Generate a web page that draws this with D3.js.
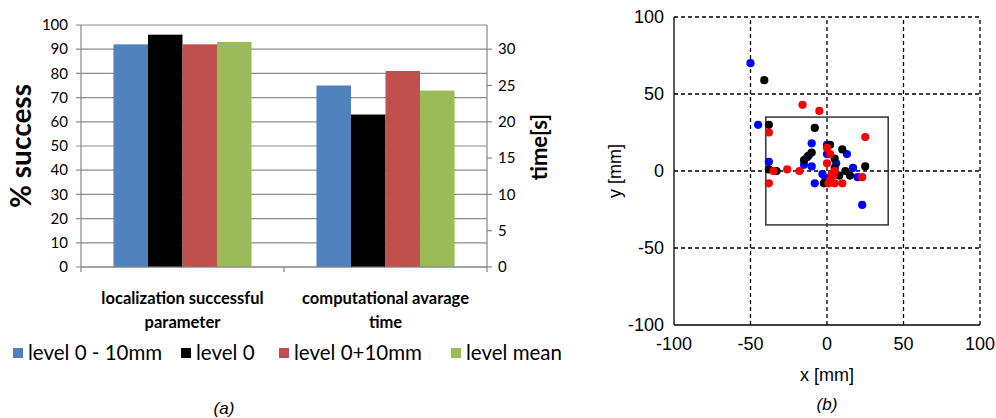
<!DOCTYPE html>
<html>
<head>
<meta charset="utf-8">
<script src="https://cdn.jsdelivr.net/npm/d3@7"></script>
<style>
  body { margin: 0; background: #fff; }
  svg { display: block; }
</style>
</head>
<body>
<div id="chart"></div>
<script>
// (a) bar chart data
const categories = ["localization successful\nparameter", "computational avarage\ntime"];
const seriesNames = ["level 0 - 10mm", "level 0", "level 0+10mm", "level mean"];
const seriesColors = ["#4f81bd", "#000000", "#c0504d", "#9bbb59"];
const successPct = [92, 96, 92, 93];     // left axis, %
const avgTime = [25, 21, 27, 24.3];      // right axis, s
const pctTicks = [0, 10, 20, 30, 40, 50, 60, 70, 80, 90, 100];
const timeTicks = [0, 5, 10, 15, 20, 25, 30];

// (b) scatter data [x, y] in mm
const bluePts = [[-50, 70], [-45, 30], [-38, 6], [-10, 18], [-15, 4], [-10, 3], [-13, 9], [0, 17], [0, 11],
  [-3, -2], [-8, -8], [6, 5], [13, 11], [17, 2], [20, -4], [23, -22], [-1, -5]];
const blackPts = [[-41, 59], [-38, 30], [-8, 28], [-38, 1], [-33, 0], [-15, 7], [-12, 10], [-10, 12], [2, 17],
  [10, 14], [5, 8], [5, 2], [12, 0], [15, -3], [25, 3], [-2, -8], [2, -7], [8, -3]];
const redPts = [[-16, 43], [-5, 39], [-38, 25], [25, 22], [-26, 1], [-18, 0], [-35, 0], [-38, -8], [0, 15],
  [2, 11], [0, 5], [4, -3], [5, 0], [2, -6], [5, -8], [10, -8], [23, -4], [1, -8], [3, -2]];
const scatterTicks = [-100, -50, 0, 50, 100];
const targetBox = [-40, 40, -35, 35]; // x0, x1, y0, y1

const svg = d3.select("#chart").append("svg")
  .attr("width", 996)
  .attr("height", 418);

// ---------- (a) ----------
const xLeft = 81, xRight = 487, yTop = 25, yBottom = 267;
const ff = "Lato, 'Open Sans', sans-serif";

const x0 = d3.scaleBand().domain(categories).range([xLeft, xRight]).paddingInner(0.32).paddingOuter(0.16);
const x1 = d3.scaleBand().domain(seriesNames).range([0, x0.bandwidth()]);
const yPct = d3.scaleLinear().domain([0, 100]).range([yBottom, yTop]);
const yTime = d3.scaleLinear().domain([0, 100 / 3]).range([yBottom, yTop]);

const a = svg.append("g");

// gridlines
a.selectAll(".grid").data(pctTicks).enter().append("line")
  .attr("x1", xLeft - 5).attr("x2", xRight)
  .attr("y1", d => yPct(d)).attr("y2", d => yPct(d))
  .attr("stroke", "#8c8c8c").attr("stroke-width", 1.2);

// bars
const barData = [];
seriesNames.forEach((s, i) => {
  barData.push({ cat: categories[0], s: s, c: seriesColors[i], y: yPct(successPct[i]) });
  barData.push({ cat: categories[1], s: s, c: seriesColors[i], y: yTime(avgTime[i]) });
});
a.selectAll(".bar").data(barData).enter().append("rect")
  .attr("x", d => x0(d.cat) + x1(d.s))
  .attr("width", x1.bandwidth())
  .attr("y", d => d.y)
  .attr("height", d => yBottom - d.y)
  .attr("fill", d => d.c);

// axes lines
a.append("line").attr("x1", xLeft).attr("x2", xLeft).attr("y1", yTop).attr("y2", yBottom)
  .attr("stroke", "#868686").attr("stroke-width", 1.2);
a.append("line").attr("x1", xRight).attr("x2", xRight).attr("y1", yTop).attr("y2", yBottom)
  .attr("stroke", "#868686").attr("stroke-width", 1.2);
a.append("line").attr("x1", xLeft).attr("x2", xRight).attr("y1", yBottom).attr("y2", yBottom)
  .attr("stroke", "#868686").attr("stroke-width", 1.2);
[xLeft, (xLeft + xRight) / 2, xRight].forEach(x => {
  a.append("line").attr("x1", x).attr("x2", x).attr("y1", yBottom).attr("y2", yBottom + 5)
    .attr("stroke", "#868686").attr("stroke-width", 1.2);
});

// left ticks labels
a.selectAll(".lt").data(pctTicks).enter().append("text")
  .attr("x", 68).attr("y", d => yPct(d)).attr("dy", "0.35em")
  .attr("text-anchor", "end")
  .attr("font-family", ff).attr("font-size", 15).attr("fill", "#000")
  .text(d => d);

// right ticks
a.selectAll(".rt").data(timeTicks).enter().append("line")
  .attr("x1", xRight).attr("x2", xRight + 5)
  .attr("y1", d => yTime(d)).attr("y2", d => yTime(d))
  .attr("stroke", "#868686").attr("stroke-width", 1.2);
a.selectAll(".rtl").data(timeTicks).enter().append("text")
  .attr("x", 498).attr("y", d => yTime(d)).attr("dy", "0.35em")
  .attr("font-family", ff).attr("font-size", 15).attr("fill", "#000")
  .text(d => d);

// axis titles
a.append("text")
  .attr("transform", "translate(31,146) rotate(-90)")
  .attr("text-anchor", "middle")
  .attr("font-family", ff).attr("font-weight", "bold").attr("font-size", 28)
  .text("% success");
a.append("text")
  .attr("transform", "translate(547,147) rotate(-90)")
  .attr("text-anchor", "middle")
  .attr("font-family", ff).attr("font-weight", "bold").attr("font-size", 22)
  .text("time[s]");

// category labels
categories.forEach(c => {
  const lines = c.split("\n");
  lines.forEach((ln, j) => {
    a.append("text")
      .attr("x", x0(c) + x0.bandwidth() / 2)
      .attr("y", 304 + j * 24)
      .attr("text-anchor", "middle")
      .attr("font-family", ff).attr("font-weight", "bold").attr("font-size", 16.5)
      .text(ln);
  });
});

// legend
const legX = [13, 181, 279, 451];
const leg = a.selectAll(".leg").data(seriesNames).enter().append("g")
  .attr("transform", (d, i) => `translate(${legX[i]},353)`);
leg.append("rect").attr("x", 0).attr("y", -5).attr("width", 10).attr("height", 10)
  .attr("fill", (d, i) => seriesColors[i]);
leg.append("text").attr("x", 15).attr("dy", "0.35em")
  .attr("font-family", ff).attr("font-size", 20.5).attr("fill", "#000")
  .text(d => d);

a.append("text").attr("x", 224).attr("y", 414).attr("text-anchor", "middle")
  .attr("font-family", "'Liberation Sans', Arial, sans-serif").attr("font-size", 17)
  .attr("font-style", "italic").text("(a)");

// ---------- (b) ----------
const sx = d3.scaleLinear().domain([-100, 100]).range([674, 980]);
const sy = d3.scaleLinear().domain([-100, 100]).range([325, 17]);
const sf = "'Liberation Sans', Arial, sans-serif";
const b = svg.append("g");

// dashed grid
scatterTicks.forEach(t => {
  if (t === -100) return;
  b.append("line").attr("x1", sx(t)).attr("x2", sx(t)).attr("y1", sy(-100)).attr("y2", sy(100))
    .attr("stroke", "#000").attr("stroke-width", 1.3).attr("stroke-dasharray", "4,3");
  b.append("line").attr("x1", sx(-100)).attr("x2", sx(100)).attr("y1", sy(t)).attr("y2", sy(t))
    .attr("stroke", "#000").attr("stroke-width", 1.3).attr("stroke-dasharray", "4,3");
});
// solid left and bottom axes
b.append("line").attr("x1", sx(-100)).attr("x2", sx(-100)).attr("y1", sy(-100)).attr("y2", sy(100))
  .attr("stroke", "#000").attr("stroke-width", 1.3);
b.append("line").attr("x1", sx(-100)).attr("x2", sx(100)).attr("y1", sy(-100)).attr("y2", sy(-100))
  .attr("stroke", "#000").attr("stroke-width", 1.3);

// tick labels
b.selectAll(".xl").data(scatterTicks).enter().append("text")
  .attr("x", d => sx(d)).attr("y", 350).attr("text-anchor", "middle")
  .attr("font-family", sf).attr("font-size", 18).text(d => d);
b.selectAll(".yl").data(scatterTicks).enter().append("text")
  .attr("x", 664).attr("y", d => sy(d)).attr("dy", "0.35em").attr("text-anchor", "end")
  .attr("font-family", sf).attr("font-size", 18).text(d => d);

b.append("text").attr("x", sx(0)).attr("y", 381).attr("text-anchor", "middle")
  .attr("font-family", sf).attr("font-size", 18).text("x [mm]");
b.append("text").attr("transform", `translate(621,${sy(0)}) rotate(-90)`).attr("text-anchor", "middle")
  .attr("font-family", sf).attr("font-size", 18).text("y [mm]");

// target box
b.append("rect")
  .attr("x", sx(targetBox[0])).attr("y", sy(targetBox[3]))
  .attr("width", sx(targetBox[1]) - sx(targetBox[0]))
  .attr("height", sy(targetBox[2]) - sy(targetBox[3]))
  .attr("fill", "none").attr("stroke", "#333").attr("stroke-width", 1.5);

// points
[[bluePts, "#0000ff"], [blackPts, "#000000"], [redPts, "#ff0000"]].forEach(([pts, col]) => {
  b.selectAll(null).data(pts).enter().append("circle")
    .attr("cx", d => sx(d[0])).attr("cy", d => sy(d[1])).attr("r", 4.1)
    .attr("fill", col);
});

b.append("text").attr("x", sx(0)).attr("y", 410).attr("text-anchor", "middle")
  .attr("font-family", sf).attr("font-size", 17).attr("font-style", "italic").text("(b)");
</script>
</body>
</html>
